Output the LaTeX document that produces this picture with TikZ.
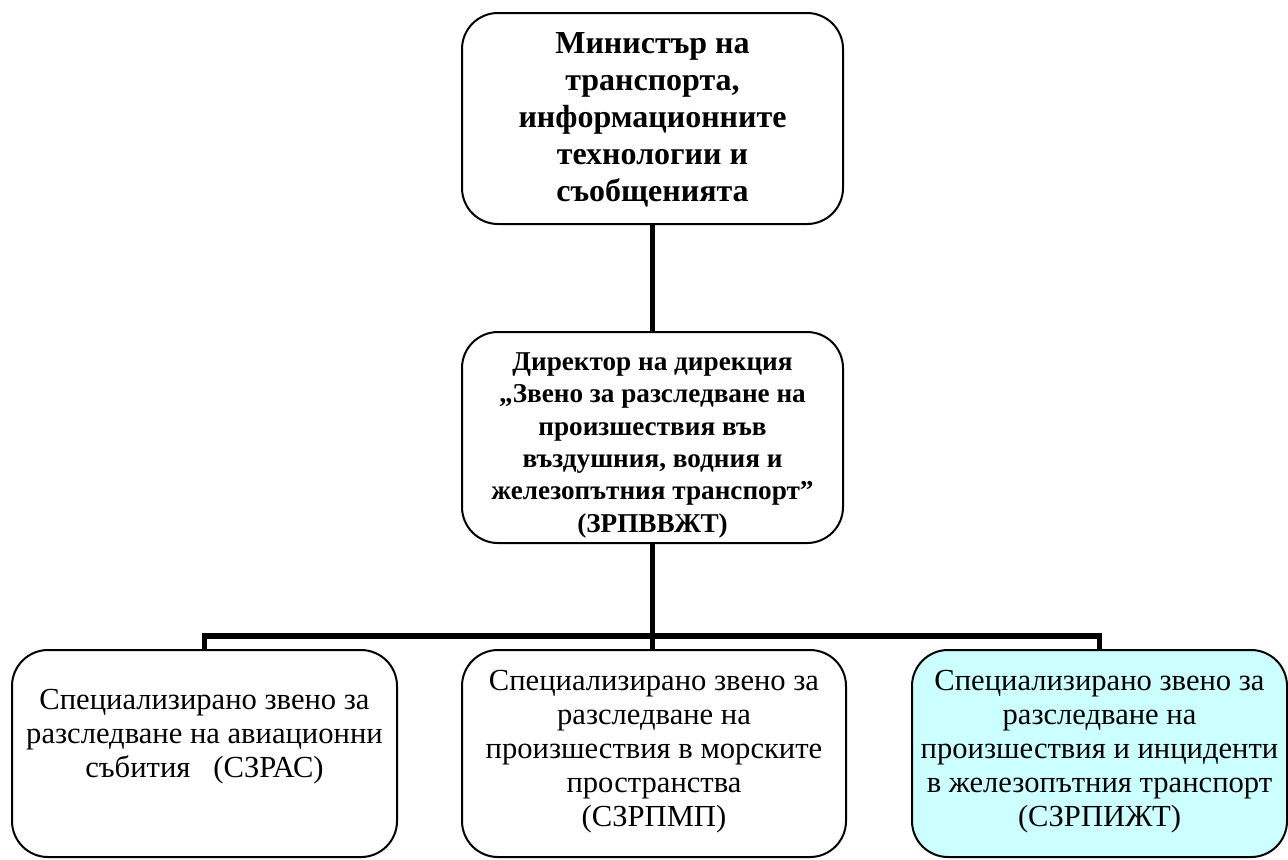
\documentclass[tikz,border=0pt]{standalone}
\usepackage{fontspec}
\setmainfont{Liberation Serif}
\definecolor{lightcyan}{HTML}{CCFFFF}
\begin{document}
\begin{tikzpicture}[x=0.5pt,y=-0.5pt,
  box/.style={draw=black, line width=1pt, rounded corners=18pt, inner sep=0pt, fill=white},
  link/.style={draw=black, line width=2.75pt, line join=miter},
  toptext/.style={anchor=north, inner sep=0pt, align=center, font=\fontsize{16}{18.5}\selectfont\bfseries},
  midtext/.style={anchor=north, inner sep=0pt, align=center, font=\fontsize{13.6}{16.2}\selectfont\bfseries},
  bottext/.style={anchor=north, inner sep=0pt, align=center, font=\fontsize{15.3}{17}\selectfont}]
\useasboundingbox (0,0) rectangle (1288,859);

% boxes
\node[box, minimum width=190.5pt, minimum height=105.5pt] (top) at (652.5,118.5) {};
\node[box, minimum width=190.5pt, minimum height=105.5pt] (mid) at (652.5,437.5) {};
\node[box, minimum width=192.5pt, minimum height=103.5pt] (b1) at (204.5,753.5) {};
\node[box, minimum width=192pt, minimum height=103.5pt] (b2) at (654,753.5) {};
\node[box, fill=lightcyan, minimum width=187.5pt, minimum height=103.5pt] (b3) at (1099.5,753.5) {};

% texts
\node[toptext] (t0) at (652.5,32) {Министър на\\транспорта,\\информационните\\технологии и\\съобщенията};
\node[midtext] (t1) at (652.5,352) {Директор на дирекция\\„Звено за разследване на\\произшествия във\\въздушния, водния и\\железопътния транспорт”\\(ЗРПВВЖТ)};
\node[bottext] (t2) at (204.5,689) {Специализирано звено за\\разследване на авиационни\\събития \ \ (СЗРАС)};
\node[bottext] (t3) at (654,670) {Специализирано звено за\\разследване на\\произшествия в морските\\пространства\\(СЗРПМП)};
\node[bottext] (t4) at (1099.5,670) {Специализирано звено за\\разследване на\\произшествия и инциденти\\в железопътния транспорт\\(СЗРПИЖТ)};

% connectors
\coordinate (bar) at (653,636);
\draw[link] (top.south) -- (mid.north);
\draw[link] (mid.south) -- (mid.south |- b2.north);
\draw[link] (b1.north) |- (bar) -| (b3.north);
\end{tikzpicture}
\end{document}
